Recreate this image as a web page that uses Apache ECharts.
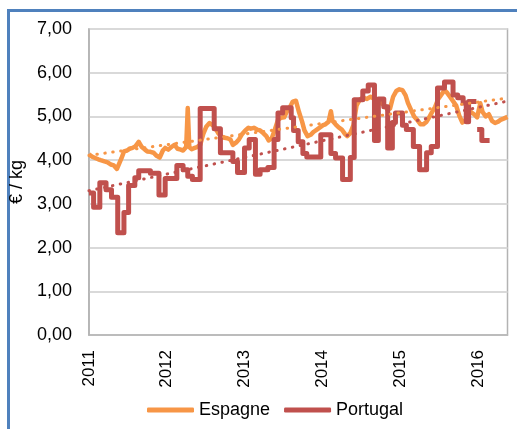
<!DOCTYPE html>
<html>
<head>
<meta charset="utf-8">
<script src="https://cdn.jsdelivr.net/npm/echarts@6/dist/echarts.min.js"></script>
<style>
  body { margin: 0; background: #fff; }
  #frame { position: absolute; left: 7px; top: 9px; width: 600px; height: 600px;
    border-top: 3px solid #4f81bd; border-left: 3px solid #4f81bd; }
  #chart { position: absolute; left: 0; top: 0; width: 517px; height: 429px; }
</style>
</head>
<body>
<div id="frame"></div>
<div id="chart"></div>
<script>
  // prix hebdo, [année décimale, €/kg]
  const espagne = [
    [2011.00, 4.13], [2011.04, 4.08], [2011.08, 4.05], [2011.12, 4.02], [2011.15, 4.00],
    [2011.20, 3.97], [2011.24, 3.95], [2011.28, 3.90], [2011.32, 3.88], [2011.36, 3.80],
    [2011.38, 3.82], [2011.42, 4.05], [2011.45, 4.20], [2011.49, 4.22], [2011.52, 4.26],
    [2011.56, 4.28], [2011.60, 4.32], [2011.64, 4.42], [2011.68, 4.30], [2011.72, 4.24],
    [2011.75, 4.20], [2011.79, 4.19], [2011.83, 4.17], [2011.87, 4.10], [2011.91, 4.06],
    [2011.95, 4.22], [2011.98, 4.28], [2012.02, 4.24], [2012.06, 4.30], [2012.10, 4.35],
    [2012.14, 4.26], [2012.18, 4.24], [2012.21, 4.22], [2012.25, 4.30], [2012.27, 5.19],
    [2012.29, 4.30], [2012.32, 4.25], [2012.36, 4.28], [2012.39, 4.30], [2012.43, 4.35],
    [2012.47, 4.60], [2012.51, 4.77], [2012.55, 4.85], [2012.59, 4.80], [2012.62, 4.75],
    [2012.66, 4.62], [2012.70, 4.55], [2012.74, 4.51], [2012.78, 4.50], [2012.82, 4.47],
    [2012.85, 4.35], [2012.89, 4.40], [2012.93, 4.48], [2012.97, 4.60], [2013.01, 4.68],
    [2013.05, 4.74], [2013.08, 4.72], [2013.12, 4.74], [2013.16, 4.70], [2013.20, 4.68],
    [2013.24, 4.62], [2013.28, 4.55], [2013.31, 4.45], [2013.35, 4.50], [2013.39, 4.70],
    [2013.43, 4.92], [2013.47, 4.97], [2013.51, 4.98], [2013.54, 5.10], [2013.58, 5.20],
    [2013.62, 5.34], [2013.66, 5.36], [2013.70, 5.10], [2013.74, 4.88], [2013.77, 4.68],
    [2013.81, 4.55], [2013.85, 4.58], [2013.89, 4.65], [2013.93, 4.70], [2013.97, 4.75],
    [2014.01, 4.80], [2014.04, 4.82], [2014.08, 4.88], [2014.11, 5.12], [2014.13, 4.90],
    [2014.17, 4.82], [2014.21, 4.75], [2014.25, 4.70], [2014.29, 4.60], [2014.32, 4.55],
    [2014.36, 4.62], [2014.40, 4.80], [2014.44, 5.25], [2014.48, 5.38], [2014.52, 5.43],
    [2014.57, 5.40], [2014.62, 5.45], [2014.67, 5.40], [2014.72, 5.38], [2014.76, 5.30],
    [2014.80, 5.25], [2014.84, 5.15], [2014.87, 5.18], [2014.91, 5.45], [2014.95, 5.58],
    [2014.99, 5.62], [2015.03, 5.60], [2015.07, 5.48], [2015.10, 5.31], [2015.14, 5.15],
    [2015.18, 5.00], [2015.22, 4.92], [2015.26, 4.82], [2015.30, 4.82], [2015.34, 4.88],
    [2015.37, 4.97], [2015.41, 5.10], [2015.45, 5.22], [2015.49, 5.40], [2015.53, 5.50],
    [2015.57, 5.60], [2015.60, 5.55], [2015.64, 5.45], [2015.68, 5.35], [2015.72, 5.25],
    [2015.76, 5.02], [2015.80, 4.86], [2015.83, 4.90], [2015.87, 5.02], [2015.91, 5.10],
    [2015.95, 5.05], [2015.99, 4.98], [2016.03, 5.30], [2016.06, 5.10], [2016.10, 5.00],
    [2016.14, 5.05], [2016.18, 4.90], [2016.22, 4.85], [2016.26, 4.88], [2016.29, 4.92],
    [2016.33, 4.95], [2016.38, 4.99]
  ];

  // paliers : chaque point = début du palier
  const portugal = [
    [2011.00, 3.25], [2011.06, 2.92], [2011.14, 3.48], [2011.22, 3.32], [2011.29, 3.15],
    [2011.37, 2.34], [2011.45, 2.80], [2011.51, 3.42], [2011.59, 3.60], [2011.64, 3.76],
    [2011.79, 3.70], [2011.90, 3.20], [2011.98, 3.58], [2012.13, 3.88], [2012.21, 3.78],
    [2012.27, 3.63], [2012.33, 3.56], [2012.43, 5.18], [2012.61, 4.72], [2012.69, 4.17],
    [2012.85, 3.97], [2012.91, 3.72], [2013.00, 4.28], [2013.06, 4.47], [2013.14, 3.68],
    [2013.20, 3.78], [2013.30, 3.83], [2013.38, 4.47], [2013.43, 5.08], [2013.49, 5.20],
    [2013.60, 4.97], [2013.63, 4.68], [2013.69, 4.42], [2013.75, 4.15], [2013.80, 4.07],
    [2013.98, 4.58], [2014.11, 4.15], [2014.17, 4.05], [2014.26, 3.56], [2014.36, 4.06],
    [2014.41, 5.38], [2014.52, 5.58], [2014.59, 5.72], [2014.67, 4.45], [2014.72, 5.40],
    [2014.79, 5.22], [2014.84, 4.28], [2014.90, 4.86], [2014.94, 5.08], [2015.03, 4.80],
    [2015.08, 4.70], [2015.17, 4.31], [2015.25, 3.78], [2015.34, 4.17], [2015.40, 4.31],
    [2015.48, 5.65], [2015.57, 5.79], [2015.68, 5.49], [2015.74, 5.43], [2015.81, 5.31],
    [2015.85, 4.88], [2015.88, 5.34], [2015.97, 5.34], [2015.98, '-'], [2015.99, 4.70],
    [2016.05, 4.45], [2016.15, 4.45]
  ];

  const trendYears = [2011, 2016.38];
  const espagneTrend = [4.11, 5.42];
  const portugalTrend = [3.30, 5.35];

  const yearTicks = [2011, 2012, 2013, 2014, 2015, 2016];

  const font = 'Liberation Sans, Arial, sans-serif';
  const orange = '#f79646';
  const red = '#c0504d';

  const chart = echarts.init(document.getElementById('chart'));

  const trendStyle = (color) => ({
    color: color,
    width: 3,
    type: [0.5, 7.5],
    cap: 'round'
  });

  chart.setOption({
    animation: false,
    grid: {
      left: 87, right: 9.5, top: 29, bottom: 94,
      show: true, borderColor: '#b3b3b3', borderWidth: 1.5
    },
    legend: {
      data: ['Espagne', 'Portugal'],
      left: 142, top: 396,
      icon: 'roundRect',
      itemWidth: 47, itemHeight: 5, itemGap: 14,
      textStyle: { fontFamily: font, fontSize: 18, color: '#000' }
    },
    xAxis: {
      type: 'value',
      min: trendYears[0],
      max: trendYears[1],
      interval: 1,
      splitLine: { show: false },
      axisTick: { show: false },
      axisLine: { lineStyle: { color: '#b3b3b3', width: 1.5 } },
      axisLabel: {
        rotate: 90,
        margin: 15,
        showMaxLabel: false,
        fontFamily: font, fontSize: 17, color: '#000',
        formatter: (v) => (yearTicks.includes(v) ? String(v) : '')
      }
    },
    yAxis: {
      type: 'value',
      min: 0, max: 7, interval: 1,
      name: '€ / kg',
      nameLocation: 'middle',
      nameGap: 58,
      nameTextStyle: { fontFamily: font, fontSize: 18, color: '#000' },
      axisLine: { show: true, lineStyle: { color: '#b3b3b3', width: 1.5 } },
      axisTick: { show: false },
      splitLine: { lineStyle: { color: '#d9d9d9', width: 2 } },
      axisLabel: {
        margin: 17,
        fontFamily: font, fontSize: 18, color: '#000',
        formatter: (v) => v.toFixed(2).replace('.', ',')
      }
    },
    series: [
      {
        name: 'Espagne',
        type: 'line',
        data: espagne,
        showSymbol: false,
        lineStyle: { color: orange, width: 4.5, join: 'round' },
        itemStyle: { color: orange }
      },
      {
        name: 'Portugal',
        type: 'line',
        step: 'end',
        data: portugal,
        showSymbol: false,
        connectNulls: false,
        lineStyle: { color: red, width: 5, join: 'round' },
        itemStyle: { color: red }
      },
      {
        name: 'Tendance Espagne',
        type: 'line',
        data: trendYears.map((y, i) => [y, espagneTrend[i]]),
        showSymbol: false,
        lineStyle: trendStyle(orange)
      },
      {
        name: 'Tendance Portugal',
        type: 'line',
        data: trendYears.map((y, i) => [y, portugalTrend[i]]),
        showSymbol: false,
        lineStyle: trendStyle(red)
      }
    ]
  });
</script>
</body>
</html>
